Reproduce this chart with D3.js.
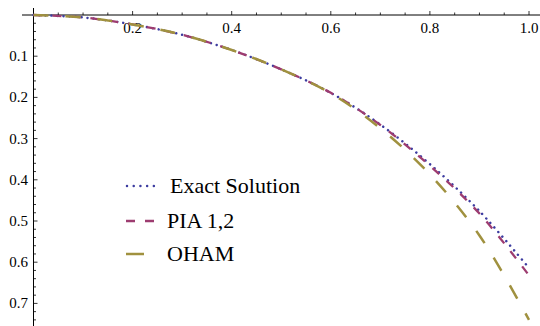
<!DOCTYPE html>
<html>
<head>
<meta charset="utf-8">
<script src="https://cdn.jsdelivr.net/npm/d3@7"></script>
</head>
<body style="margin:0">
<div class="chart"></div>
<script>
// values (downward deflection, shown positive on the axis)
const xs = [0, 0.1, 0.2, 0.3, 0.4, 0.5, 0.6, 0.7, 0.8, 0.9, 1.0];
const exact = [0, 0.006, 0.023, 0.048, 0.085, 0.132, 0.189, 0.266, 0.362, 0.476, 0.614];
const pia = [0, 0.006, 0.023, 0.048, 0.085, 0.132, 0.189, 0.267, 0.366, 0.482, 0.632];
const oham = [0, 0.006, 0.023, 0.048, 0.085, 0.132, 0.190, 0.275, 0.387, 0.535, 0.740];
const legendNames = ['Exact Solution', 'PIA 1,2', 'OHAM'];
const xTicks = [0.2, 0.4, 0.6, 0.8, 1.0];
const yTicks = [0.1, 0.2, 0.3, 0.4, 0.5, 0.6, 0.7];

function drawChart() {
  const w = 540;
  const h = 326;
  const font = '"Liberation Serif"';

  const svg = d3.select('.chart')
    .append('svg')
    .attr('width', w)
    .attr('height', h)
    .style('display', 'block');

  const x = d3.scaleLinear().domain([0, 1]).range([33.5, 529]);
  const y = d3.scaleLinear().domain([0, 0.75]).range([15, 324]);

  // axes, Mathematica style: x axis along y=0, ticks pointing up; y ticks pointing right
  const axes = svg.append('g').attr('stroke', '#000').attr('fill', 'none');
  axes.append('line')
    .attr('x1', 22).attr('x2', w)
    .attr('y1', y(0)).attr('y2', y(0));
  axes.append('line')
    .attr('x1', x(0)).attr('x2', x(0))
    .attr('y1', 8).attr('y2', h);

  const xMinor = d3.range(0.05, 1.001, 0.05);
  axes.selectAll('.xt')
    .data(xMinor)
    .enter()
    .append('line')
    .attr('x1', d => x(d)).attr('x2', d => x(d))
    .attr('y1', y(0))
    .attr('y2', (d, i) => y(0) - ((i % 4 === 3) ? 4 : 2.5))
    .attr('stroke-width', 0.8);

  const yMinor = d3.range(0.02, 0.76, 0.02);
  axes.selectAll('.yt')
    .data(yMinor)
    .enter()
    .append('line')
    .attr('y1', d => y(d)).attr('y2', d => y(d))
    .attr('x1', x(0))
    .attr('x2', (d, i) => x(0) + ((i % 5 === 4) ? 4 : 2.5))
    .attr('stroke-width', 0.8);

  svg.selectAll('.xl')
    .data(xTicks)
    .enter()
    .append('text')
    .attr('x', d => x(d))
    .attr('y', 33)
    .attr('text-anchor', 'middle')
    .attr('font-size', 15)
    .style('font-family', font)
    .text(d => d3.format('.1f')(d));

  svg.selectAll('.yl')
    .data(yTicks)
    .enter()
    .append('text')
    .attr('x', 28)
    .attr('y', d => y(d) + 5)
    .attr('text-anchor', 'end')
    .attr('font-size', 15)
    .style('font-family', font)
    .text(d => d3.format('.1f')(d));

  const series = [
    { name: legendNames[0], values: exact, color: '#3c3ca0', width: 2.5, dash: '0.01 6', cap: 'round' },
    { name: legendNames[1], values: pia, color: '#9d3c70', width: 2.3, dash: '9 10', cap: 'butt' },
    { name: legendNames[2], values: oham, color: '#a0913f', width: 2.5, dash: '15 17', cap: 'butt' }
  ];

  const line = d3.line()
    .x((d, i) => x(xs[i]))
    .y(d => y(d))
    .curve(d3.curveCatmullRom);

  svg.selectAll('.curve')
    .data(series)
    .enter()
    .append('path')
    .attr('d', d => line(d.values))
    .attr('fill', 'none')
    .attr('stroke', d => d.color)
    .attr('stroke-width', d => d.width)
    .attr('stroke-dasharray', d => d.dash)
    .attr('stroke-linecap', d => d.cap);

  // legend
  const legendY = [186, 221, 254];
  const item = svg.selectAll('.leg')
    .data(series)
    .enter()
    .append('g')
    .attr('transform', (d, i) => `translate(126, ${legendY[i]})`);

  item.append('line')
    .attr('x1', (d, i) => i === 0 ? 1 : 0)
    .attr('x2', (d, i) => i === 2 ? 18 : 29)
    .attr('stroke', d => d.color)
    .attr('stroke-width', d => d.width)
    .attr('stroke-dasharray', (d, i) => i === 0 ? '0.01 6.7' : (i === 1 ? '9 10' : null))
    .attr('stroke-linecap', d => d.cap);

  item.append('text')
    .attr('x', (d, i) => i === 0 ? 44 : 41)
    .attr('y', 7)
    .attr('font-size', 22)
    .style('font-family', font)
    .text(d => d.name);
}

drawChart();
</script>
</body>
</html>
